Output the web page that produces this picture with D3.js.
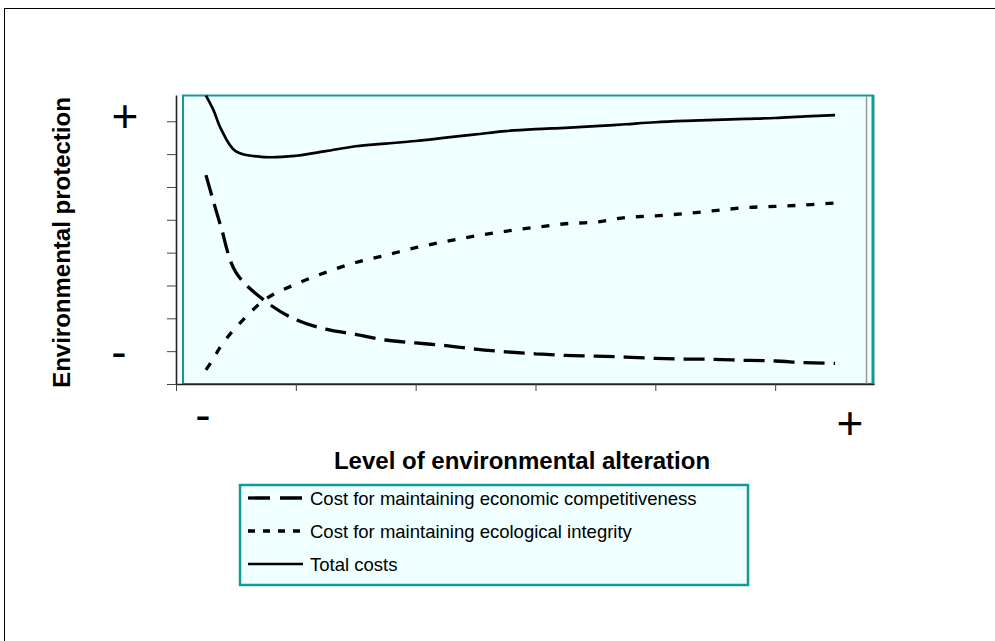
<!DOCTYPE html>
<html>
<head>
<meta charset="utf-8">
<script src="https://cdn.jsdelivr.net/npm/d3@7"></script>
<style>
  body { margin: 0; background: #fff; }
  svg { display: block; font-family: "Liberation Sans", Arial, sans-serif; }
</style>
</head>
<body>
<svg id="chart" width="995" height="641"></svg>
<script>
// ---- data ----
const xValues = [1, 1.25, 1.5, 2, 3, 4, 5, 6, 7, 8, 9, 10, 11, 12, 13, 14, 15, 16, 17, 18, 19, 20, 21, 22];
const economicCost = [6.36, 5.56, 4.79, 3.40, 2.51, 1.96, 1.67, 1.51, 1.34, 1.25, 1.17, 1.06, 0.98, 0.92, 0.87, 0.85, 0.82, 0.78, 0.76, 0.75, 0.72, 0.70, 0.65, 0.63];
const ecologicalCost = [0.43, 0.77, 1.16, 1.72, 2.59, 3.04, 3.40, 3.70, 3.92, 4.15, 4.34, 4.51, 4.65, 4.77, 4.88, 4.93, 5.07, 5.12, 5.19, 5.28, 5.37, 5.41, 5.45, 5.51];
const totalCost = [8.78, 8.34, 7.77, 7.08, 6.91, 6.95, 7.09, 7.24, 7.32, 7.40, 7.50, 7.60, 7.70, 7.76, 7.80, 7.85, 7.91, 7.97, 8.01, 8.04, 8.07, 8.10, 8.15, 8.19];
const xTickValues = [0, 4, 8, 12, 16, 20];
const yTickValues = [0, 1, 2, 3, 4, 5, 6, 7, 8];
const seriesNames = ["Cost for maintaining economic competitiveness", "Cost for maintaining ecological integrity", "Total costs"];
const yAxisTitle = "Environmental protection";
const xAxisTitle = "Level of environmental alteration";

const svg = d3.select("#chart");
const TEAL = "#119a9a";
const FILL = "#f0ffff";

// outer frame
svg.append("rect").attr("x", 4.5).attr("y", 8.5).attr("width", 1000).attr("height", 700)
  .attr("fill", "none").attr("stroke", "#000").attr("stroke-width", 1);

const x = d3.scaleLinear().domain([0, 23.3]).range([176, 874]);
const y = d3.scaleLinear().domain([0, 8.8]).range([384, 95]);

// plot area
svg.append("rect").attr("x", 183).attr("y", 95.5).attr("width", 690).attr("height", 288.5)
  .attr("fill", FILL).attr("stroke", TEAL).attr("stroke-width", 2);
svg.append("line").attr("x1", 873).attr("x2", 873).attr("y1", 95).attr("y2", 385)
  .attr("stroke", TEAL).attr("stroke-width", 3);
svg.append("line").attr("x1", 866.5).attr("x2", 866.5).attr("y1", 96).attr("y2", 384)
  .attr("stroke", "#999").attr("stroke-width", 1.5);

svg.append("clipPath").attr("id", "clip").append("rect")
  .attr("x", 183).attr("y", 95).attr("width", 690).attr("height", 289);

const series = [
  { name: seriesNames[0], values: economicCost, width: 3.3, dash: "21,9", legendDash: "22,10" },
  { name: seriesNames[1], values: ecologicalCost, width: 3.3, dash: "8,11", legendDash: "7,8" },
  { name: seriesNames[2], values: totalCost, width: 2.7, dash: null, legendDash: null }
];

const line = d3.line().x(d => x(d[0])).y(d => y(d[1])).curve(d3.curveCatmullRom.alpha(0.5));
const g = svg.append("g").attr("clip-path", "url(#clip)");
series.forEach(s => {
  g.append("path")
    .attr("d", line(xValues.map((xv, i) => [xv, s.values[i]])))
    .attr("fill", "none").attr("stroke", "#000")
    .attr("stroke-width", s.width)
    .attr("stroke-dasharray", s.dash);
});

// axes
const yAxis = svg.append("g").attr("transform", "translate(176,0)")
  .call(d3.axisLeft(y).tickValues(yTickValues).tickSize(9).tickSizeOuter(0).tickFormat(""));
const xAxis = svg.append("g").attr("transform", "translate(0,384)")
  .call(d3.axisBottom(x).tickValues(xTickValues).tickSize(7).tickSizeOuter(0).tickFormat(""));
[yAxis, xAxis].forEach(a => {
  a.select(".domain").attr("stroke", "#222").attr("stroke-width", 1.6);
  a.selectAll(".tick line").attr("stroke", "#444").attr("stroke-width", 1);
});

// +/- signs
const signSize = 46;
function sign(txt, cx, cy) {
  const off = txt === "+" ? 0.36 : 0.27;
  svg.append("text").attr("x", cx).attr("y", cy + off * signSize)
    .attr("text-anchor", "middle").attr("font-size", signSize).text(txt);
}
sign("+", 125, 115);
sign("-", 119, 356);
sign("-", 203, 419);
sign("+", 850, 422);

// axis titles
svg.append("text").attr("transform", "translate(70,242.5) rotate(-90)")
  .attr("text-anchor", "middle").attr("font-weight", "bold").attr("font-size", 24)
  .text(yAxisTitle);
svg.append("text").attr("x", 522).attr("y", 469)
  .attr("text-anchor", "middle").attr("font-weight", "bold").attr("font-size", 24)
  .text(xAxisTitle);

// legend
svg.append("rect").attr("x", 240).attr("y", 485).attr("width", 508).attr("height", 100)
  .attr("fill", FILL).attr("stroke", TEAL).attr("stroke-width", 2.5);
const rowY = [498, 531, 564];
series.forEach((s, i) => {
  svg.append("line").attr("x1", 248).attr("x2", 303).attr("y1", rowY[i]).attr("y2", rowY[i])
    .attr("stroke", "#000").attr("stroke-width", s.width).attr("stroke-dasharray", s.legendDash);
  svg.append("text").attr("x", 310).attr("y", rowY[i] + 6.5).attr("font-size", 18.5)
    .text(s.name);
});
</script>
</body>
</html>
